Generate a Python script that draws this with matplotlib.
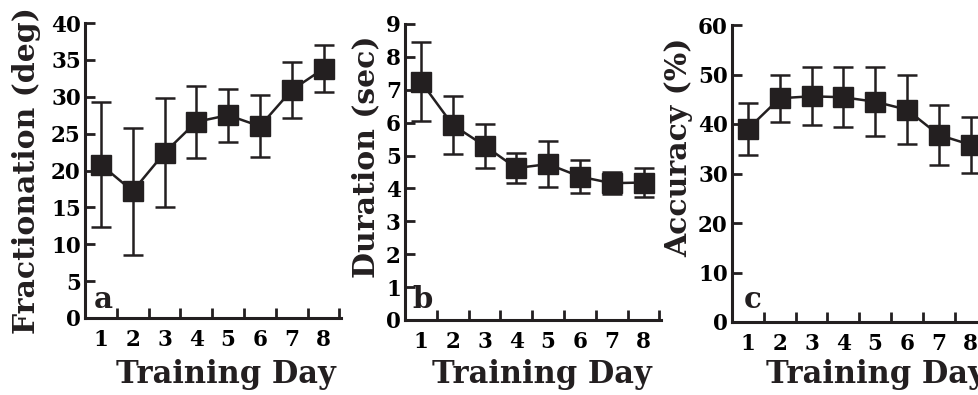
import matplotlib
matplotlib.use("Agg")
import matplotlib.pyplot as plt
from matplotlib.ticker import FixedLocator

days = [1, 2, 3, 4, 5, 6, 7, 8]

frac_mean = [20.8, 17.2, 22.4, 26.6, 27.5, 26.0, 30.9, 33.8]
frac_err = [8.5, 8.6, 7.4, 4.9, 3.6, 4.2, 3.8, 3.2]

dur_mean = [7.25, 5.93, 5.30, 4.62, 4.74, 4.36, 4.16, 4.18]
dur_err = [1.2, 0.88, 0.67, 0.46, 0.69, 0.51, 0.34, 0.44]

acc_mean = [39.0, 45.2, 45.6, 45.4, 44.5, 42.9, 37.8, 35.8]
acc_err = [5.2, 4.8, 5.9, 6.1, 7.0, 7.0, 6.0, 5.6]

panels = [
    ("a", "Fractionation (deg)", frac_mean, frac_err, [0, 5, 10, 15, 20, 25, 30, 35, 40]),
    ("b", "Duration (sec)", dur_mean, dur_err, [0, 1, 2, 3, 4, 5, 6, 7, 8, 9]),
    ("c", "Accuracy (%)", acc_mean, acc_err, [0, 10, 20, 30, 40, 50, 60]),
]

W, H = 979, 395
ink = "#231f20"
plt.rcParams["font.family"] = "DejaVu Serif"
plt.rcParams["font.weight"] = "bold"

fig = plt.figure(figsize=(W / 100, H / 100), dpi=100)

# pixel boxes: left, top, bottom of each axes
boxes = [(85, 23, 318), (405, 24, 320), (732, 25, 322)]
ylab_pos = [(27, 170), (366, 157), (679, 147)]
xlab_pos = [226, 542, 876]
letter_pos = [(94, 308), (412, 308), (744, 308)]

for (letter, ylabel, mean, err, yticks), (l, t, b), (yx, yy), xx, (lx, ly) in zip(
        panels, boxes, ylab_pos, xlab_pos, letter_pos):
    ax = fig.add_axes([l / W, 1 - b / H, 256 / W, (b - t) / H])
    ax.errorbar(days, mean, yerr=err, color=ink, marker="s", markersize=15,
                lw=1.8, elinewidth=1.8, capsize=7, capthick=1.8, clip_on=False)
    ax.set_xlim(0.5, 8.55)
    ax.set_ylim(yticks[0], yticks[-1])
    ax.set_xticks(days)
    ax.xaxis.set_minor_locator(FixedLocator([d + 0.5 for d in days]))
    ax.set_yticks(yticks)
    ax.tick_params(axis="x", which="major", length=0, pad=8, labelsize=15.5)
    ax.tick_params(axis="x", which="minor", direction="in", length=7, width=2, color=ink)
    ax.tick_params(axis="y", direction="in", length=7, width=2, pad=3, labelsize=15.5, color=ink)
    for s in ["top", "right"]:
        ax.spines[s].set_visible(False)
    for s in ["left", "bottom"]:
        ax.spines[s].set_linewidth(2.2)
        ax.spines[s].set_color(ink)
    fig.text(yx / W, 1 - yy / H, ylabel, rotation=90, ha="center", va="center",
             fontsize=21.5, fontweight="bold", color=ink)
    fig.text(xx / W, 1 - 375 / H, "Training Day", ha="center", va="center",
             fontsize=22, fontweight="bold", color=ink)
    fig.text(lx / W, 1 - ly / H, letter, ha="left", va="baseline",
             fontsize=21, fontweight="bold", color=ink)

fig.savefig("out.png", dpi=100)
